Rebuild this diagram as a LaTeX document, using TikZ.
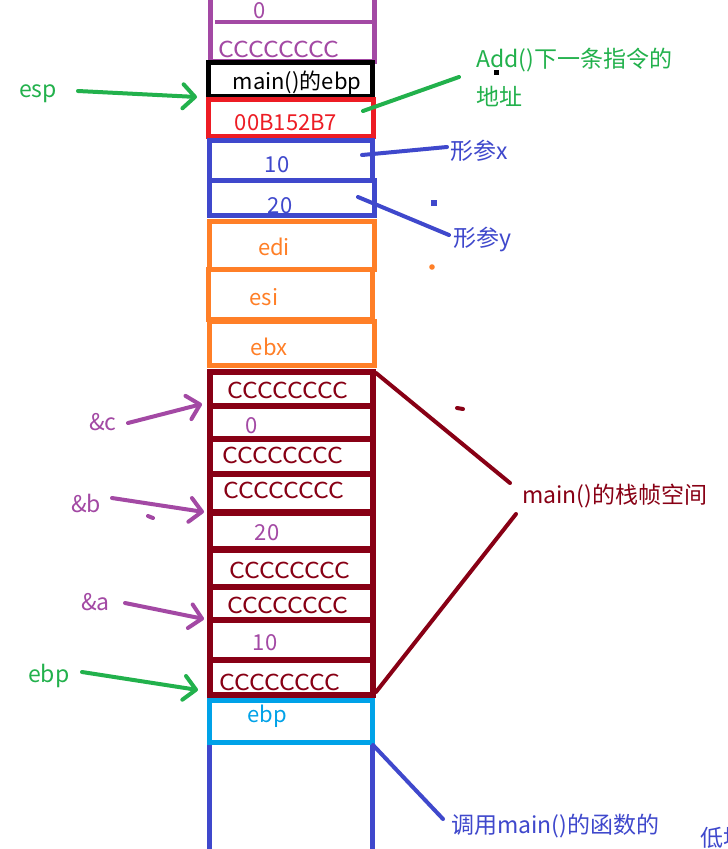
\documentclass[tikz,border=0pt]{standalone}
\usepackage{fontspec}
\setmainfont{Noto Sans CJK SC}
\newfontfamily\ccfont{Noto Sans CJK SC}[FakeStretch=1.13]
\usetikzlibrary{arrows.meta}
\definecolor{pgreen}{HTML}{22B14C}
\definecolor{ppurple}{HTML}{A349A4}
\definecolor{pred}{HTML}{ED1C24}
\definecolor{pblue}{HTML}{3F48CC}
\definecolor{porange}{HTML}{FF7F27}
\definecolor{pdark}{HTML}{880015}
\definecolor{pcyan}{HTML}{00A2E8}
\newcommand\stackcell[7]{%
  \pgfmathsetmacro\cw{#4-#2-#7}\pgfmathsetmacro\ch{#5-#3-#7}%
  \node[draw=#6, line width=#7pt, inner sep=0pt, minimum width=\cw pt,
        minimum height=\ch pt] (#1) at ({(#2+#4)/2},{(#3+#5)/2}) {};}
\tikzset{
  celltxt/.style={anchor=base, inner sep=0pt, font=\fontsize{22}{26}\selectfont},
  cctxt/.style={anchor=base, inner sep=0pt, font=\ccfont\fontsize{22}{26}\selectfont},
  lbl/.style={anchor=base west, inner sep=0pt, font=\fontsize{23}{27}\selectfont},
  pen/.style={line width=4pt, line cap=round},
  ptr/.style={pen, -{Straight Barb[length=12pt,width=24pt,round]}},
}
\begin{document}
\begin{tikzpicture}[x=1pt,y=-1pt]
\useasboundingbox[fill=white] (0,0) rectangle (728,849);
% top purple cell (cut by top edge)
\stackcell{pcell}{208}{-20}{377}{64}{ppurple}{5}
\coordinate (pl) at (215,22); \coordinate (pr) at (374,22);
\draw[ppurple, line width=3.5pt] (pl) -- (pr);
\node[celltxt, text=ppurple] (t0) at (260,18) {0};
\node[cctxt, text=ppurple] (tc0) at (279,57) {CCCCCCCC};
% black / red / blue
\stackcell{cmain}{206}{60}{375}{99}{black}{5}
\node[celltxt, text=black] (tmain) at (297,89) {main()的ebp};
\stackcell{cret}{206}{97}{376}{139}{pred}{5}
\node[celltxt, text=pred] (tret) at (286,130) {00B152B7};
\stackcell{cx}{207}{138}{375}{183}{pblue}{5}
\node[celltxt, text=pblue] (tx) at (277,172) {10};
\stackcell{cy}{207}{178}{377}{218}{pblue}{5}
\node[celltxt, text=pblue] (ty) at (280,213) {20};
% orange saved registers
\stackcell{cedi}{207}{219}{377}{272}{porange}{5}
\node[celltxt, text=porange] (tedi) at (274,255) {edi};
\stackcell{cesi}{206}{267}{375}{322}{porange}{5}
\node[celltxt, text=porange] (tesi) at (264,305) {esi};
\stackcell{cebx}{207}{319}{377}{368}{porange}{5}
\node[celltxt, text=porange] (tebx) at (269,355) {ebx};
% main frame (dark red)
\stackcell{r1}{207}{369}{376}{409}{pdark}{6}
\stackcell{r2}{207}{403}{376}{442}{pdark}{6}
\stackcell{r3}{207}{436}{376}{477}{pdark}{6}
\stackcell{r4}{207}{471}{376}{516}{pdark}{6}
\stackcell{r5}{207}{509}{376}{553}{pdark}{6}
\stackcell{r6}{207}{546}{376}{590}{pdark}{6}
\stackcell{r7}{207}{584}{376}{623}{pdark}{6}
\stackcell{r8}{207}{617}{376}{663}{pdark}{6}
\stackcell{r9}{207}{657}{376}{698}{pdark}{6}
\node[cctxt, text=pdark] (tr1) at (288,398) {CCCCCCCC};
\node[celltxt, text=ppurple] (tr2) at (252,433) {0};
\node[cctxt, text=pdark] (tr3) at (283,463) {CCCCCCCC};
\node[cctxt, text=pdark] (tr4) at (284,498) {CCCCCCCC};
\node[celltxt, text=ppurple] (tr5) at (267,540) {20};
\node[cctxt, text=pdark] (tr6) at (290,578) {CCCCCCCC};
\node[cctxt, text=pdark] (tr7) at (288,613) {CCCCCCCC};
\node[celltxt, text=ppurple] (tr8) at (265,650) {10};
\node[cctxt, text=pdark] (tr9) at (280,690) {CCCCCCCC};
% caller ebp
\stackcell{cebp}{207}{698}{375}{745}{pcyan}{5}
\node[celltxt, text=pcyan] (tebp) at (267,722) {ebp};
% caller frame walls
\coordinate (wl0) at (209.5,745); \coordinate (wl1) at (209.5,860);
\coordinate (wr0) at (372.5,745); \coordinate (wr1) at (372.5,860);
\draw[pblue, line width=5pt] (wl0) -- (wl1) (wr0) -- (wr1);
% left pointers
\node[lbl, text=pgreen] (lesp) at (19,97) {esp};
\coordinate (aesp0) at (78,91); \coordinate (aesp1) at (197,97);
\draw[ptr, pgreen] (aesp0) -- (aesp1);
\node[lbl, text=ppurple] (lc) at (89,430) {\&c};
\coordinate (ac0) at (128,423); \coordinate (ac1) at (202,404);
\draw[ptr, ppurple] (ac0) -- (ac1);
\node[lbl, text=ppurple] (lb) at (71,512) {\&b};
\coordinate (ab0) at (112,498); \coordinate (ab1) at (204,512);
\draw[ptr, ppurple] (ab0) -- (ab1);
\node[lbl, text=ppurple] (la) at (81,610) {\&a};
\coordinate (aa0) at (125,603); \coordinate (aa1) at (204,619);
\draw[ptr, ppurple] (aa0) -- (aa1);
\node[lbl, text=pgreen] (lebp) at (28,682) {ebp};
\coordinate (ae0) at (82,672); \coordinate (ae1) at (198,690);
\draw[ptr, pgreen] (ae0) -- (ae1);
% right annotations
\node[lbl, text=pgreen] (lret1) at (476,67) {Add()下一条指令的};
\node[lbl, text=pgreen] (lret2) at (476,105) {地址};
\coordinate (g0) at (363,111); \coordinate (g1) at (459,77);
\draw[pen, pgreen] (g0) -- (g1);
\node[lbl, text=pblue] (lx) at (450,159) {形参x};
\coordinate (bx0) at (362,155); \coordinate (bx1) at (447,147);
\draw[pen, pblue] (bx0) -- (bx1);
\node[lbl, text=pblue] (ly) at (453,246) {形参y};
\coordinate (by0) at (358,197); \coordinate (by1) at (449,235);
\draw[pen, pblue] (by0) -- (by1);
\node[lbl, text=pdark] (lframe) at (522,503) {main()的栈帧空间};
\coordinate (d0) at (376,373); \coordinate (d1) at (510,483);
\coordinate (d2) at (376,692); \coordinate (d3) at (516,514);
\draw[pen, pdark] (d0) -- (d1) (d2) -- (d3);
\node[lbl, text=pblue] (lcall) at (451,833) {调用main()的函数的};
\coordinate (c0) at (373,745); \coordinate (c1) at (443,819);
\draw[pen, pblue] (c0) -- (c1);
\node[lbl, text=pblue] (llow) at (700,846) {低地};
% stray marks
\fill[black] (493.5,69.5) rectangle (499,75);
\fill[pblue] (431,200) rectangle (437,206);
\fill[porange] (432,267) circle (2.8);
\draw[pdark, line width=4pt, line cap=round] (457,408) -- (463,409);
\draw[ppurple, line width=4pt, line cap=round] (148,516) -- (153,518);
\end{tikzpicture}
\end{document}
